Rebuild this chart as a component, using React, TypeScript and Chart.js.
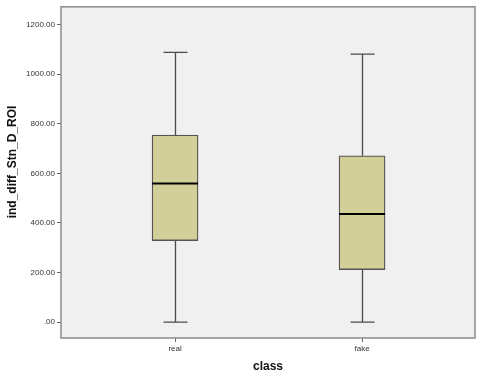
import React, { useEffect, useRef } from "react";
import { Chart, registerables } from "chart.js";

Chart.register(...registerables);

const categories = ["real", "fake"];
const whiskerMin = [0, 0];
const q1 = [329, 212];
const median = [559, 436];
const q3 = [755, 671];
const whiskerMax = [1088, 1081];
const yTicks = [0, 200, 400, 600, 800, 1000, 1200];
const yTitle = "ind_diff_Stn_D_ROI";
const xTitle = "class";

const FONT = "'Liberation Sans', Arial, sans-serif";

export default function App() {
  const ref = useRef<HTMLCanvasElement | null>(null);

  useEffect(() => {
    if (!ref.current) return;
    const boxPlugin = {
      id: "boxExtras",
      beforeDraw(chart: any) {
        const { ctx, chartArea: a } = chart;
        ctx.save();
        ctx.fillStyle = "#ffffff";
        ctx.fillRect(0, 0, chart.width, chart.height);
        ctx.fillStyle = "#f0f0f0";
        ctx.fillRect(a.left, a.top, a.right - a.left, a.bottom - a.top);
        ctx.restore();
      },
      beforeDatasetsDraw(chart: any) {
        const { ctx } = chart;
        const xs = chart.scales.x;
        const ys = chart.scales.y;
        ctx.save();
        ctx.strokeStyle = "#4a4a4a";
        ctx.lineWidth = 1.3;
        categories.forEach((_, i) => {
          const cx = Math.round(xs.getPixelForValue(i + 1)) + 0.5;
          const capHalf = 12;
          const yMin = ys.getPixelForValue(whiskerMin[i]);
          const yMax = ys.getPixelForValue(whiskerMax[i]);
          const yQ1 = ys.getPixelForValue(q1[i]);
          const yQ3 = ys.getPixelForValue(q3[i]);
          ctx.beginPath();
          ctx.moveTo(cx, yMax);
          ctx.lineTo(cx, yQ3);
          ctx.moveTo(cx, yQ1);
          ctx.lineTo(cx, yMin);
          ctx.moveTo(cx - capHalf, yMax);
          ctx.lineTo(cx + capHalf, yMax);
          ctx.moveTo(cx - capHalf, yMin);
          ctx.lineTo(cx + capHalf, yMin);
          ctx.stroke();
        });
        ctx.restore();
      },
      afterDatasetsDraw(chart: any) {
        const { ctx, chartArea: a } = chart;
        const xs = chart.scales.x;
        const ys = chart.scales.y;
        ctx.save();
        ctx.strokeStyle = "#000000";
        ctx.lineWidth = 2;
        categories.forEach((_, i) => {
          const cx = xs.getPixelForValue(i + 1);
          const ym = ys.getPixelForValue(median[i]);
          ctx.beginPath();
          ctx.moveTo(cx - 23, ym);
          ctx.lineTo(cx + 23, ym);
          ctx.stroke();
        });
        ctx.strokeStyle = "#8a8a8a";
        ctx.lineWidth = 1.5;
        ctx.strokeRect(a.left, a.top, a.right - a.left, a.bottom - a.top);
        // y-axis title (SPSS places it slightly above the plot centre)
        ctx.translate(13, 162);
        ctx.rotate(-Math.PI / 2);
        ctx.fillStyle = "#111111";
        ctx.font = `bold 12px ${FONT}`;
        ctx.textAlign = "center";
        ctx.textBaseline = "middle";
        ctx.fillText(yTitle, 0, 0);
        ctx.restore();
      },
    };

    const chart = new Chart(ref.current, {
      type: "bar",
      data: {
        datasets: [
          {
            data: categories.map((_, i) => ({ x: i + 1, y: [q1[i], q3[i]] })) as any,
            backgroundColor: "#d3cf99",
            borderColor: "#555555",
            borderWidth: 1.3,
            borderSkipped: false,
            barThickness: 46,
          },
        ],
      },
      options: {
        animation: false,
        responsive: false,
        events: [],
        layout: { padding: { top: 5, right: 5, left: 0, bottom: 0 } },
        plugins: { legend: { display: false }, tooltip: { enabled: false } },
        scales: {
          x: {
            type: "linear",
            min: 0.39,
            max: 2.604,
            offset: false,
            afterBuildTicks(scale: any) {
              scale.ticks = categories.map((_, i) => ({ value: i + 1 }));
            },
            afterFit(scale: any) {
              scale.height = 36;
            },
            ticks: {
              callback: (v: any) => categories[Number(v) - 1] ?? "",
              font: { family: FONT, size: 8 },
              color: "#333333",
              padding: 2,
              maxRotation: 0,
              autoSkip: false,
            },
            grid: { offset: false, drawOnChartArea: false, drawTicks: true, tickLength: 4, color: "#666666" },
            border: { display: false },
            title: {
              display: true,
              text: xTitle,
              font: { family: FONT, size: 12, weight: "bold" },
              color: "#111111",
              padding: { top: 3, bottom: 0 },
            },
          },
          y: {
            type: "linear",
            min: -64,
            max: 1272,
            afterBuildTicks(scale: any) {
              scale.ticks = yTicks.map((v) => ({ value: v }));
            },
            afterFit(scale: any) {
              scale.width = 61;
            },
            ticks: {
              callback: (v: any) => (Number(v) === 0 ? ".00" : Number(v).toFixed(2)),
              font: { family: FONT, size: 8 },
              color: "#333333",
              padding: 2,
            },
            grid: { drawOnChartArea: false, drawTicks: true, tickLength: 4, color: "#666666" },
            border: { display: false },
            title: { display: false },
          },
        },
      },
      plugins: [boxPlugin],
    } as any);
    return () => chart.destroy();
  }, []);

  return (
    <div style={{ position: "absolute", left: 0, top: 0, width: 480, height: 374, background: "#fff" }}>
      <canvas ref={ref} width={480} height={374} style={{ display: "block" }} />
    </div>
  );
}
